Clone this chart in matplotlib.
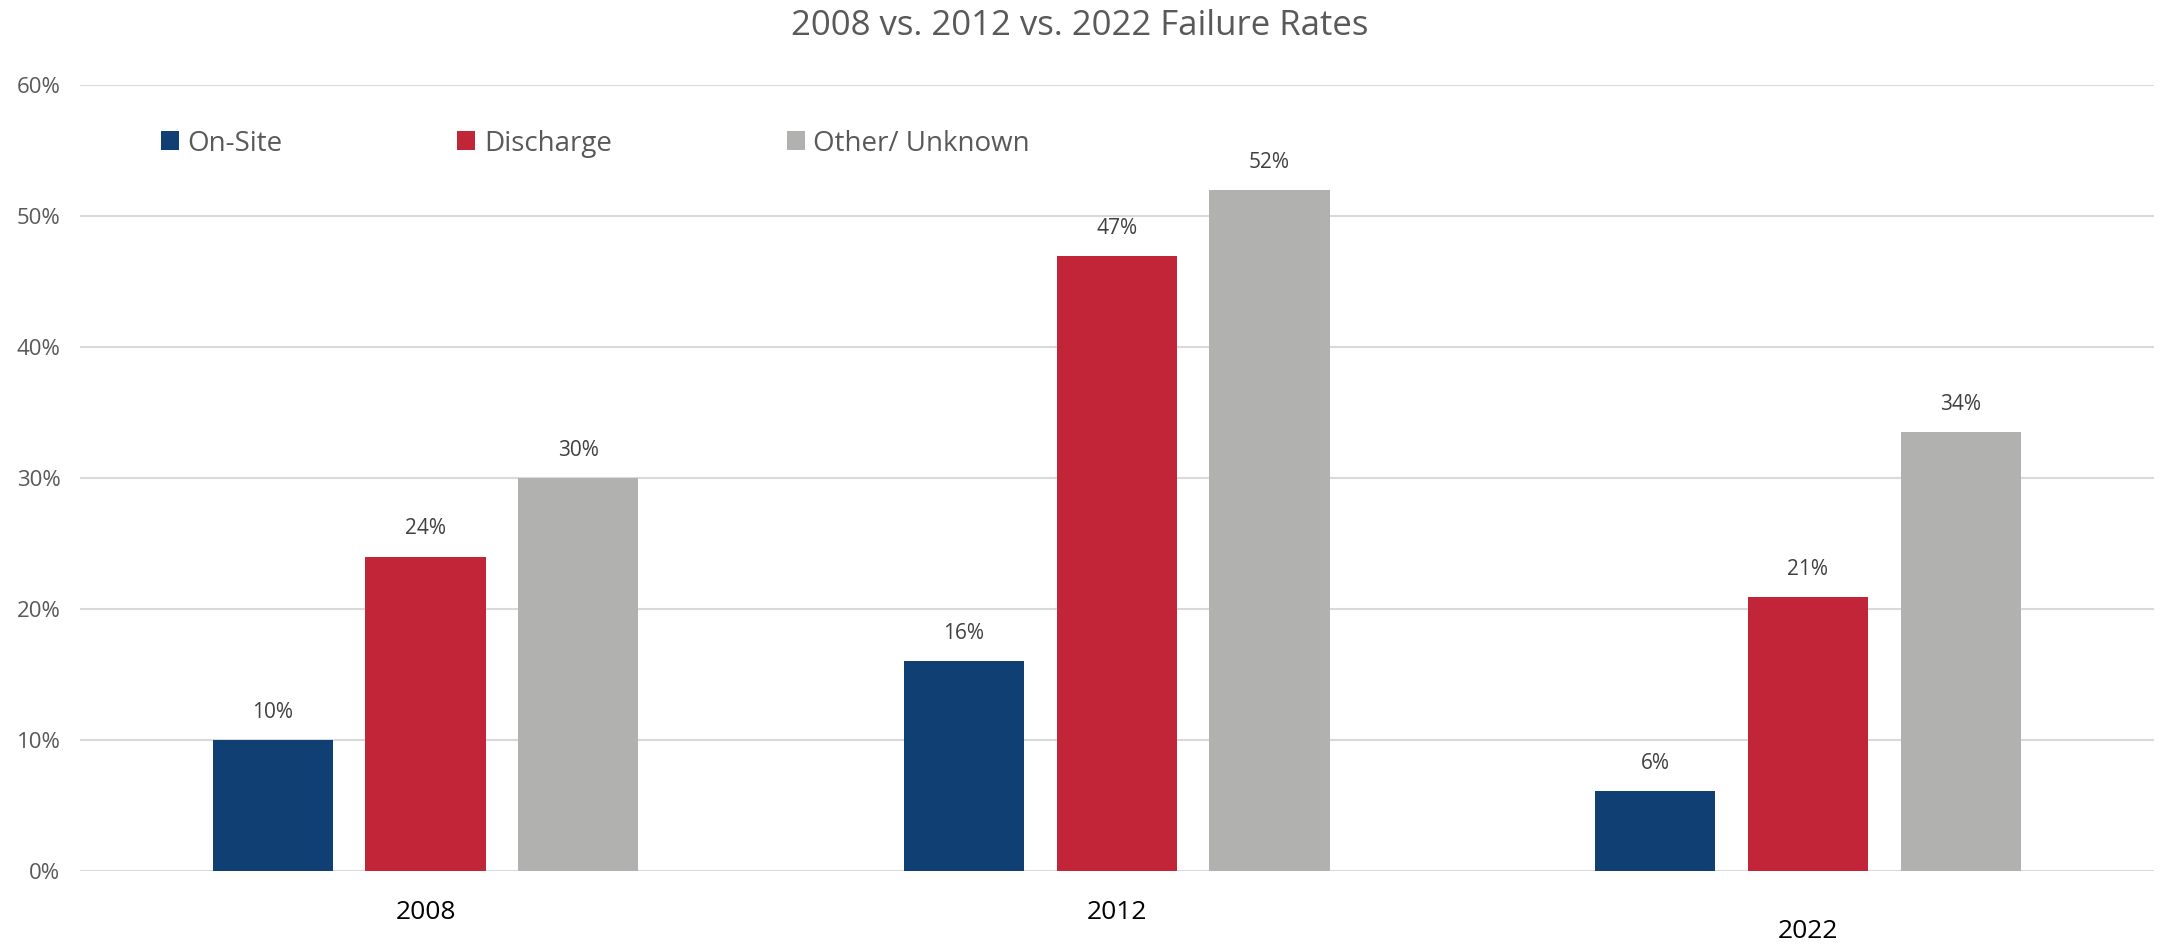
import numpy as np
import matplotlib
matplotlib.use("Agg")
import matplotlib.pyplot as plt

plt.rcParams['font.family'] = ['Open Sans', 'DejaVu Sans']

years = ['2008', '2012', '2022']
series = ['On-Site', 'Discharge', 'Other/ Unknown']
on_site = [10, 16, 6.1]
discharge = [24, 46.9, 20.9]
other = [30, 52, 33.5]
colors = ['#0F3F73', '#C12537', '#B1B2AF']
yticks = [0, 10, 20, 30, 40, 50, 60]

fig = plt.figure(figsize=(21.6, 9.46), dpi=100)
ax = fig.add_axes([0.037, 0.0793, 0.96, 0.831])

x = np.arange(len(years))
width = 0.174
step = 0.221
for i, (name, vals) in enumerate(zip(series, [on_site, discharge, other])):
    pos = x + (i - 1) * step
    bars = ax.bar(pos, vals, width, color=colors[i], label=name, zorder=3)
    for b, v in zip(bars, vals):
        ax.text(b.get_x() + b.get_width() / 2, v + 1.3, f'{round(v)}%',
                ha='center', va='bottom', fontsize=15, color='#404040')

ax.set_xlim(-0.5, len(years) - 0.5)
ax.set_ylim(0, 60)
ax.set_yticks(yticks)
ax.set_yticklabels([f'{t}%' for t in yticks], fontsize=16, color='#595959')
ax.tick_params(axis='y', length=0, pad=14)
ax.set_xticks([])
ax.grid(axis='y', color='#D9D9D9', linewidth=1.5, zorder=0)
for s in ax.spines.values():
    s.set_visible(False)

# category labels (the last one sits a little lower in the original)
label_y = [-3.2, -3.2, -4.6]
for xi, yr, ly in zip(x, years, label_y):
    ax.text(xi, ly, yr, ha='center', va='center', fontsize=19, color='black')

ax.legend(loc='upper left', bbox_to_anchor=(0.027, 0.975), ncol=3, frameon=False,
          fontsize=20, handlelength=0.65, handleheight=0.65, handletextpad=0.3,
          columnspacing=6.3, labelcolor='#595959')

fig.suptitle('2008 vs. 2012 vs. 2022 Failure Rates', y=0.99, fontsize=25,
             color='#595959')

fig.savefig('out.png', dpi=100)
